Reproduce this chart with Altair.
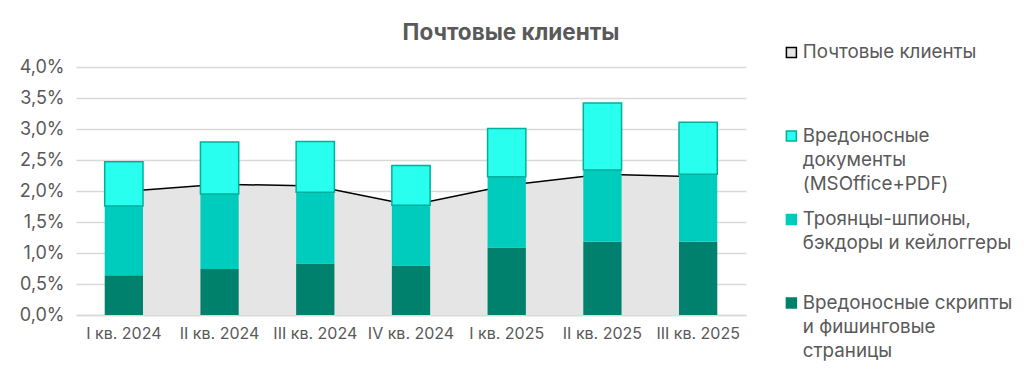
import altair as alt
import pandas as pd

quarters = ["I кв. 2024", "II кв. 2024", "III кв. 2024", "IV кв. 2024",
            "I кв. 2025", "II кв. 2025", "III кв. 2025"]
# values in percent
mail_clients = [1.99, 2.11, 2.08, 1.77, 2.09, 2.27, 2.23]
scripts = [0.64, 0.74, 0.83, 0.80, 1.09, 1.18, 1.18]
trojans = [1.12, 1.21, 1.15, 0.97, 1.14, 1.16, 1.09]
documents = [0.71, 0.84, 0.82, 0.64, 0.78, 1.08, 0.84]

s_mail = "Почтовые клиенты"
s_docs = "Вредоносные|документы|(MSOffice+PDF)"
s_troj = "Троянцы-шпионы,|бэкдоры и кейлоггеры"
s_scr = "Вредоносные скрипты|и фишинговые|страницы"

series_order = [s_mail, s_docs, s_troj, s_scr]
series_colors = ["#e5e5e5", "#29ffef", "#00ccbe", "#00816d"]

rows = []
for i, q in enumerate(quarters):
    rows.append({"q": q, "series": s_scr, "v": scripts[i], "ord": 0})
    rows.append({"q": q, "series": s_troj, "v": trojans[i], "ord": 1})
    rows.append({"q": q, "series": s_docs, "v": documents[i], "ord": 2})
bars_df = pd.DataFrame(rows)
mail_df = pd.DataFrame({"q": quarters, "v": mail_clients, "series": [s_mail] * len(quarters)})

FONT = "Inter"
TXT = "#595959"

x_scale = alt.Scale(domain=quarters, paddingInner=0.6, paddingOuter=0.3)
y_scale = alt.Scale(domain=[0, 4], nice=False)

stroke_expr = ("datum.value == '" + s_mail + "' ? '#000000' : (datum.value == '" + s_docs +
               "' ? '#00b09b' : (datum.value == '" + s_troj + "' ? '#00ccbe' : '#00816d'))")

legend = alt.Legend(
    title=None, orient="none", legendX=706, legendY=-24, padding=0,
    symbolType="square", symbolSize=100, symbolStrokeWidth=1.5,
    symbolStrokeColor={"expr": stroke_expr},
    labelFont=FONT, labelFontSize=18.8, labelColor=TXT, labelOffset=2,
    rowPadding=15.5, labelLimit=300,
    labelExpr="slice(split(datum.label + '||', '|'), 0, 3)",
)

color = alt.Color("series:N", scale=alt.Scale(domain=series_order, range=series_colors), legend=legend)

x_axis = alt.Axis(title=None, labelAngle=0, labelFont=FONT, labelFontSize=16, labelColor=TXT,
                  labelPadding=10, ticks=False, domain=True, domainColor="#d9d9d9", domainWidth=1.5,
                  grid=False, labelOverlap=False)
y_axis = alt.Axis(title=None, values=[0, 0.5, 1, 1.5, 2, 2.5, 3, 3.5, 4],
                  labelExpr="replace(format(datum.value, '.1f'), '.', ',') + '%'",
                  labelFont=FONT, labelFontSize=18, labelColor=TXT, labelPadding=12,
                  labelOverlap=False,
                  ticks=False, domain=False, grid=True, gridColor="#d9d9d9", gridWidth=1.5)

area = alt.Chart(mail_df).mark_area(opacity=1).encode(
    x=alt.X("q:N", scale=x_scale, axis=x_axis, bandPosition=0.5, sort=quarters),
    y=alt.Y("v:Q", scale=y_scale, axis=y_axis),
    color=color,
)
line = alt.Chart(mail_df).mark_line(color="#000000", strokeWidth=1.5).encode(
    x=alt.X("q:N", scale=x_scale, bandPosition=0.5, sort=quarters, axis=x_axis),
    y=alt.Y("v:Q", scale=y_scale, axis=y_axis),
)
bars = alt.Chart(bars_df).mark_bar(strokeWidth=1.5).encode(
    x=alt.X("q:N", scale=x_scale, sort=quarters, axis=x_axis),
    y=alt.Y("sum(v):Q", scale=y_scale, stack="zero", axis=y_axis),
    color=color,
    order=alt.Order("ord:Q", sort="ascending"),
    stroke=alt.condition("datum.ord == 2", alt.value("#00b09b"), alt.value("transparent")),
)

chart = alt.layer(area, line, bars).properties(
    width=670, height=248,
    title=alt.TitleParams("Почтовые клиенты", font=FONT, fontSize=22.5, fontWeight="bold",
                          color=TXT, anchor="middle", dx=100, offset=-1),
    autosize=alt.AutoSizeParams(type="none"),
    padding={"left": 68, "top": 59, "right": 268, "bottom": 58},
).configure(
    background="white",
    view=alt.ViewConfig(stroke="transparent", strokeWidth=0),
    style={"guide-label": {"lineHeight": 24}},
)

chart.save("out.html", embed_options={"renderer": "svg", "actions": False})
